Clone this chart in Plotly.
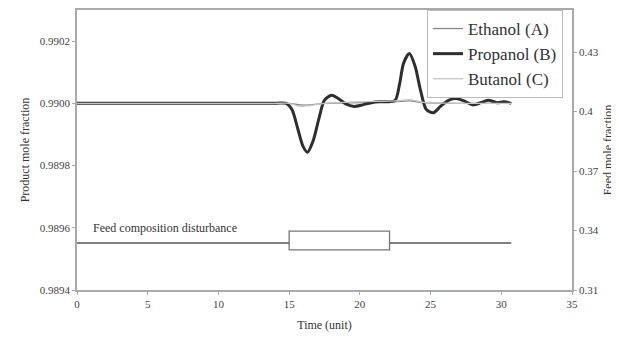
import plotly.graph_objects as go

# Product composition responses (time in units, product mole fraction)
t_prop = [0, 5, 10, 14.0, 14.8, 15.2, 15.6, 16.0, 16.3, 16.7, 17.1, 17.5, 18.0, 18.5, 19.0, 19.6,
          20.2, 20.8, 21.4, 22.0, 22.5, 22.8, 23.1, 23.5, 23.9, 24.3, 24.7, 25.2,
          25.7, 26.3, 26.9, 27.5, 28.0, 28.6, 29.1, 29.7, 30.2, 30.7]
propanol = [0.99000, 0.99000, 0.99000, 0.99000, 0.99000, 0.98998, 0.98992, 0.98986, 0.989843,
            0.98988, 0.98995, 0.99001, 0.990026, 0.990015, 0.989998, 0.98999, 0.989995,
            0.990002, 0.990005, 0.990005, 0.99001, 0.99006, 0.99013, 0.99016, 0.99012,
            0.99004, 0.98998, 0.98997, 0.98999, 0.99001, 0.990015, 0.990005, 0.989995,
            0.990003, 0.99001, 0.990002, 0.990005, 0.99000]

t_other = [0, 5, 10, 14.0, 15.0, 15.8, 16.5, 17.5, 20.0, 22.5, 23.5, 24.5, 27.0, 30.7]
ethanol = [0.99, 0.99, 0.99, 0.99, 0.99, 0.989995, 0.989995, 0.99, 0.990002, 0.990005,
           0.990008, 0.990002, 0.99, 0.99]
butanol = [0.99, 0.99, 0.99, 0.99, 0.99, 0.98999, 0.989993, 0.99, 0.990005, 0.990008,
           0.990012, 0.990003, 0.99, 0.99]

# Feed composition disturbance (feed mole fraction, right axis)
t_feed = [0, 15.0, 15.0, 22.1, 22.1, 30.7]
feed_up = [0.3337, 0.3337, 0.3397, 0.3397, 0.3337, 0.3337]
feed_down = [0.3337, 0.3337, 0.3302, 0.3302, 0.3337, 0.3337]

left_ticks = [0.9894, 0.9896, 0.9898, 0.9900, 0.9902]
right_ticks = [0.31, 0.34, 0.37, 0.40, 0.43]
right_labels = ["0.31", "0.34", "0.37", "0.4", "0.43"]
x_ticks = [0, 5, 10, 15, 20, 25, 30, 35]

FONT = "Liberation Serif, Times New Roman, serif"
fig = go.Figure()

fig.add_trace(go.Scatter(x=t_feed, y=feed_up, yaxis="y2", mode="lines",
                         line=dict(color="#777777", width=1.3), showlegend=False,
                         hoverinfo="skip"))
fig.add_trace(go.Scatter(x=t_feed, y=feed_down, yaxis="y2", mode="lines",
                         line=dict(color="#777777", width=1.3), showlegend=False,
                         hoverinfo="skip"))

fig.add_trace(go.Scatter(x=t_other, y=ethanol, mode="lines", name="Ethanol (A)",
                         line=dict(color="#888888", width=1.3, shape="spline", smoothing=0.6)))
fig.add_trace(go.Scatter(x=t_prop, y=propanol, mode="lines", name="Propanol (B)",
                         line=dict(color="#2e2e2e", width=3, shape="spline", smoothing=0.8)))
fig.add_trace(go.Scatter(x=t_other, y=butanol, mode="lines", name="Butanol (C)",
                         line=dict(color="#c4c4c4", width=1.3, shape="spline", smoothing=0.6)))

fig.add_annotation(x=1.0, y=0.98960, xref="x", yref="y", text="Feed composition disturbance",
                   showarrow=False, xanchor="left", yanchor="middle",
                   font=dict(family=FONT, size=12, color="#333333"))

axis_common = dict(showgrid=False, zeroline=False, linecolor="#aaaaaa", linewidth=1.5,
                   ticks="outside", ticklen=3, tickcolor="#aaaaaa", automargin=False,
                   tickfont=dict(family=FONT, size=11, color="#444444"))

fig.update_layout(
    width=611, height=337,
    margin=dict(l=69, r=47, t=2, b=55),
    paper_bgcolor="white", plot_bgcolor="white",
    font=dict(family=FONT, color="#333333"),
    xaxis=dict(range=[0, 35], tickvals=x_ticks, mirror=True,
               title=dict(text="Time (unit)", font=dict(family=FONT, size=12), standoff=12),
               **axis_common),
    yaxis=dict(range=[0.9894, 0.9903], tickvals=left_ticks, tickformat=".4f",
               title=dict(text="Product mole fraction", font=dict(family=FONT, size=12), standoff=8),
               **axis_common),
    yaxis2=dict(range=[0.31, 0.4512], overlaying="y", side="right",
                tickvals=right_ticks, ticktext=right_labels,
                title=dict(text="Feed mole fraction", font=dict(family=FONT, size=12), standoff=6),
                **axis_common),
    legend=dict(x=0.707, y=1.0, xanchor="left", yanchor="top",
                bgcolor="white", bordercolor="#bbbbbb", borderwidth=1,
                font=dict(family=FONT, size=17, color="#333333"),
                tracegroupgap=0, itemwidth=30),
    showlegend=True,
)

fig.write_html("out.html")
